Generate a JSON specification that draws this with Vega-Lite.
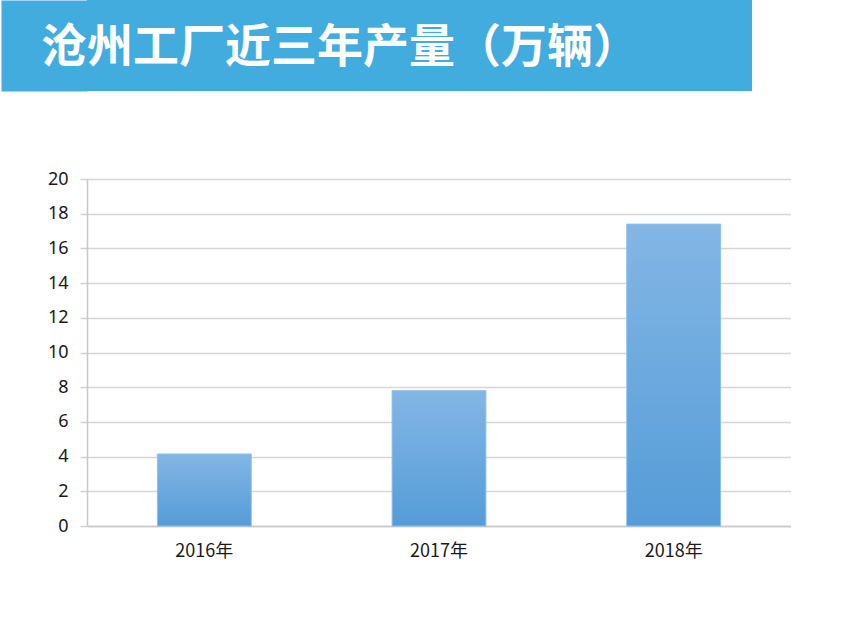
{
  "$schema": "https://vega.github.io/schema/vega-lite/v6.json",
  "background": "white",
  "padding": 0,
  "spacing": 79,
  "config": {"view": {"stroke": null}, "font": "Noto Sans CJK SC"},
  "vconcat": [
    {
      "width": 665,
      "height": 91,
      "view": {"fill": "#41acdd", "stroke": null},
      "data": {"values": [{"title": "沧州工厂近三年产量（万辆）"}]},
      "mark": {"type": "text", "align": "left", "baseline": "middle", "font": "Noto Sans CJK SC", "fontWeight": "bold", "fontSize": 46, "color": "#ffffff"},
      "encoding": {
        "text": {"field": "title"},
        "x": {"datum": -0.069, "type": "quantitative", "scale": {"domain": [0, 1], "nice": false, "zero": false}, "axis": null},
        "y": {"datum": 0.47, "type": "quantitative", "scale": {"domain": [0, 1], "nice": false, "zero": false},
          "axis": {"title": null, "labels": false, "ticks": false, "grid": false, "domain": true, "domainWidth": 86, "domainColor": "#41acdd", "domainCap": "butt", "offset": 43, "zindex": 0}}
      }
    },
    {
      "width": 704,
      "height": 347,
      "data": {"values": [
        {"year": "2016年", "output": 4.15},
        {"year": "2017年", "output": 7.8},
        {"year": "2018年", "output": 17.4}
      ]},
      "mark": {
        "type": "bar",
        "color": {"gradient": "linear", "x1": 0, "y1": 0, "x2": 0, "y2": 1, "stops": [{"offset": 0, "color": "#83b6e5"}, {"offset": 1, "color": "#559cd7"}]},
        "stroke": "#8fc0ea",
        "strokeWidth": 1
      },
      "encoding": {
        "x": {
          "field": "year", "type": "nominal", "sort": null,
          "scale": {"paddingInner": 0.6, "paddingOuter": 0.3},
          "axis": {"title": null, "labelAngle": 0, "ticks": false, "domainColor": "#c8c8c8", "domainWidth": 1.5, "labelPadding": 16, "labelFontSize": 18, "labelColor": "#1a1a1a", "labelFont": "Noto Sans CJK SC"}
        },
        "y": {
          "field": "output", "type": "quantitative",
          "scale": {"domain": [0, 20], "nice": false},
          "axis": {"title": " ", "titleFontSize": 10, "titlePadding": 37, "values": [0, 2, 4, 6, 8, 10, 12, 14, 16, 18, 20], "domainColor": "#c8c8c8", "domainWidth": 1.5, "tickColor": "#d0d0d0", "tickSize": 7, "tickWidth": 1.5, "gridColor": "#d6d6d6", "gridWidth": 1.5, "labelFontSize": 18, "labelPadding": 12, "labelColor": "#1a1a1a", "labelFont": "Noto Sans"}
        }
      }
    }
  ]
}
